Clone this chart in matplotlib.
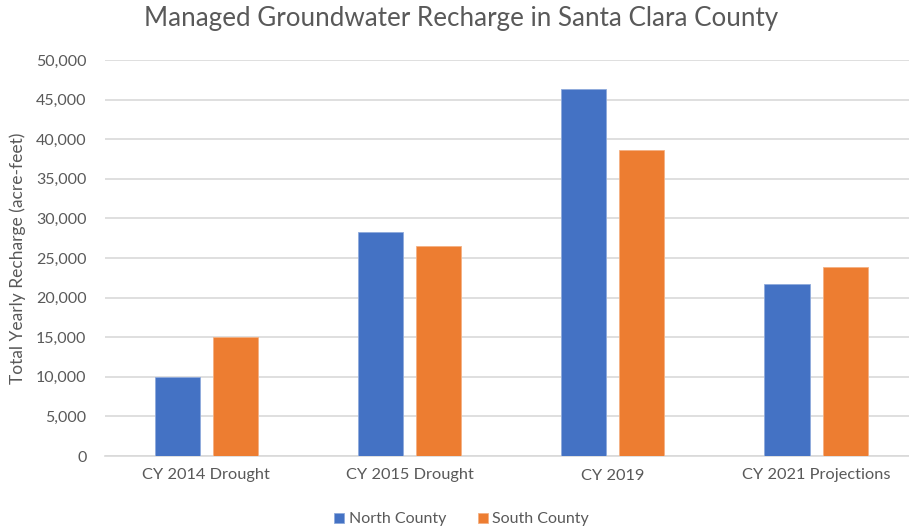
import matplotlib.pyplot as plt
import numpy as np

# Values (acre-feet)
categories = ["CY 2014 Drought", "CY 2015 Drought", "CY 2019", "CY 2021 Projections"]
north_county = [10000, 28300, 46300, 21700]
south_county = [15000, 26500, 38600, 23900]
y_ticks = [0, 5000, 10000, 15000, 20000, 25000, 30000, 35000, 40000, 45000, 50000]

blue = "#4472C4"
orange = "#ED7D31"
grey_text = "#595959"

plt.rcParams['font.family'] = ['Lato', 'DejaVu Sans']

fig = plt.figure(figsize=(9.09, 5.31), dpi=100)
ax = fig.add_axes([104.5 / 909, 75 / 531, 1 - 104.5 / 909, 396 / 531])

x = np.arange(len(categories))
width = 0.222
offset = 0.143
ax.bar(x - offset, north_county, width, color=blue, edgecolor="#8FAADC", linewidth=0.6,
       label="North County", zorder=3)
ax.bar(x + offset, south_county, width, color=orange, edgecolor="#F4B183", linewidth=0.6,
       label="South County", zorder=3)

ax.set_xlim(-0.5, (909 - 104.5) / 203.3 - 0.5)
ax.set_ylim(0, 50000)
ax.set_yticks(y_ticks)
ax.set_yticklabels([f"{v:,}" for v in y_ticks])
ax.set_xticks(x)
ax.set_xticklabels(categories)

ax.grid(axis="y", color="#D9D9D9", linewidth=1.2, zorder=0)
for side in ["top", "right", "left"]:
    ax.spines[side].set_visible(False)
ax.spines["bottom"].set_color("#D9D9D9")
ax.spines["bottom"].set_linewidth(1.2)
ax.tick_params(axis="y", length=0, labelsize=11.5, labelcolor=grey_text, pad=13)
ax.tick_params(axis="x", length=0, labelsize=11.8, labelcolor=grey_text, pad=9)

ax.set_ylabel("Total Yearly Recharge (acre-feet)", fontsize=12.5, color=grey_text, labelpad=7)

fig.text(0.507, 0.965, "Managed Groundwater Recharge in Santa Clara County",
         ha="center", va="center", fontsize=18.7, color=grey_text)

fig.legend(loc="center", bbox_to_anchor=(0.508, 0.022), ncol=2, frameon=False,
           fontsize=11.5, labelcolor=grey_text, handlelength=0.6, handleheight=0.6,
           handletextpad=0.3, columnspacing=2.0)

fig.savefig("out.png", dpi=100)
